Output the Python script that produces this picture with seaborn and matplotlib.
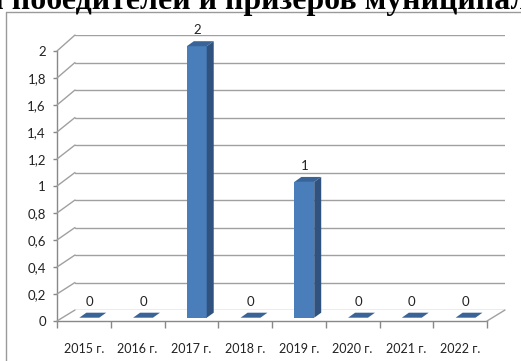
import numpy as np
import matplotlib
matplotlib.use("Agg")
import matplotlib.pyplot as plt
from matplotlib.lines import Line2D
from matplotlib.patches import Polygon
from matplotlib.transforms import IdentityTransform
import seaborn as sns

# данные
years = ["2015 г.", "2016 г.", "2017 г.", "2018 г.", "2019 г.", "2020 г.", "2021 г.", "2022 г."]
values = [0, 0, 2, 0, 1, 0, 0, 0]
yticks = [0, 0.2, 0.4, 0.6, 0.8, 1.0, 1.2, 1.4, 1.6, 1.8, 2.0]
ytick_labels = ["0", "0,2", "0,4", "0,6", "0,8", "1", "1,2", "1,4", "1,6", "1,8", "2"]
title = "Показатели победителей и призеров муниципального этапа"

sns.set_theme(style="white")
plt.rcParams["font.family"] = ["Lato", "DejaVu Sans"]

W, H = 521, 361
fig = plt.figure(figsize=(W / 100, H / 100), dpi=100)

GRID = "#a0a0a0"
AX = "#888888"
FRONT = "#4a7ebb"
SIDE = "#30527f"
TOP = "#3a6398"


def rect(x0, x1, ytop, ybot):
    return [x0 / W, 1 - ybot / H, (x1 - x0) / W, (ybot - ytop) / H]


n = len(years)
xlim = (-0.5, n - 0.5)

# задняя стенка
ax_back = fig.add_axes(rect(75, 505, 35, 310))
ax_back.set_xlim(xlim)
ax_back.set_ylim(0, 2)
ax_back.axis("off")
for v in yticks:
    ax_back.axhline(v, color=GRID, lw=1)

# передняя плоскость (оси)
ax = fig.add_axes(rect(57, 487, 51, 321))
ax.patch.set_alpha(0)
ax.set_xlim(xlim)
ax.set_ylim(0, 2)
for s in ["top", "right"]:
    ax.spines[s].set_visible(False)
for s in ["left", "bottom"]:
    ax.spines[s].set_color(AX)
    ax.spines[s].set_linewidth(1)
ax.set_yticks(yticks)
ax.set_yticklabels(ytick_labels, fontsize=9.5, color="#222222")
ax.tick_params(axis="y", direction="out", length=3, width=1, color=AX, pad=5, left=True)
ax.set_xticks(np.arange(n + 1) - 0.5)
ax.set_xticklabels([])
ax.tick_params(axis="x", which="major", direction="out", length=5, width=1, color=AX, bottom=True)
ax.set_xticks(np.arange(n), minor=True)
ax.set_xticklabels(years, minor=True, fontsize=9, color="#222222")
ax.tick_params(axis="x", which="minor", length=0, pad=15.5)

# левая стенка и пол: диагонали
for v in yticks:
    p0 = ax.transData.transform((xlim[0], v))
    p1 = ax_back.transData.transform((xlim[0], v))
    fig.add_artist(Line2D([p0[0], p1[0]], [p0[1], p1[1]], color=GRID, lw=1,
                          transform=IdentityTransform()))
p0 = ax.transData.transform((xlim[1], 0))
p1 = ax_back.transData.transform((xlim[1], 0))
fig.add_artist(Line2D([p0[0], p1[0]], [p0[1], p1[1]], color=GRID, lw=1,
                      transform=IdentityTransform()))

# столбцы
ax_bar = fig.add_axes(rect(62.4, 492.4, 46.2, 317.7))
ax_bar.patch.set_alpha(0)
sns.barplot(x=years, y=values, ax=ax_bar, color=FRONT, saturation=1, width=0.37, linewidth=0)
ax_bar.set_xlim(xlim)
ax_bar.set_ylim(0, 2)
ax_bar.axis("off")

dx, dy = 7, 5
for p in ax_bar.patches:
    x0, y0 = ax_bar.transData.transform((p.get_x(), p.get_y()))
    x1, y1 = ax_bar.transData.transform((p.get_x() + p.get_width(), p.get_y() + p.get_height()))
    if y1 - y0 > 0.5:
        fig.add_artist(Polygon([(x1, y0), (x1 + dx, y0 + dy), (x1 + dx, y1 + dy), (x1, y1)],
                               closed=True, color=SIDE, lw=0, transform=IdentityTransform()))
    fig.add_artist(Polygon([(x0, y1), (x1, y1), (x1 + dx, y1 + dy), (x0 + dx, y1 + dy)],
                           closed=True, color=TOP, lw=0, transform=IdentityTransform()))

for i, v in enumerate(values):
    ax_bar.annotate(str(v), xy=(i, v), xytext=(0, 10), textcoords="offset pixels",
                    ha="center", va="bottom", fontsize=9.5, color="#222222")

# рамка диаграммы
fig.add_artist(Line2D([6 / W, 6 / W], [0, 1 - 12 / H], color="#9a9a9a", lw=1))
fig.add_artist(Line2D([6 / W, 1], [1 - 12 / H, 1 - 12 / H], color="#9a9a9a", lw=1))

# заголовок (обрезан сверху, как на исходнике)
fig.canvas.draw()
r = fig.canvas.get_renderer()


def text_w(s, fs):
    t = fig.text(0, 0, s, fontsize=fs, family="Liberation Serif", weight="bold")
    w = t.get_window_extent(r).width
    t.remove()
    return w


fs = 20 * 498 / text_w("победителей и призеров муниципа", 20)
shift = text_w("Показатели победителей", fs) - text_w("победителей", fs)
fig.text((12 - shift) / W, 1 - 9.5 / H, title, fontsize=fs, family="Liberation Serif",
         weight="bold", ha="left", va="baseline", color="black")

fig.savefig("out.png", dpi=100)
